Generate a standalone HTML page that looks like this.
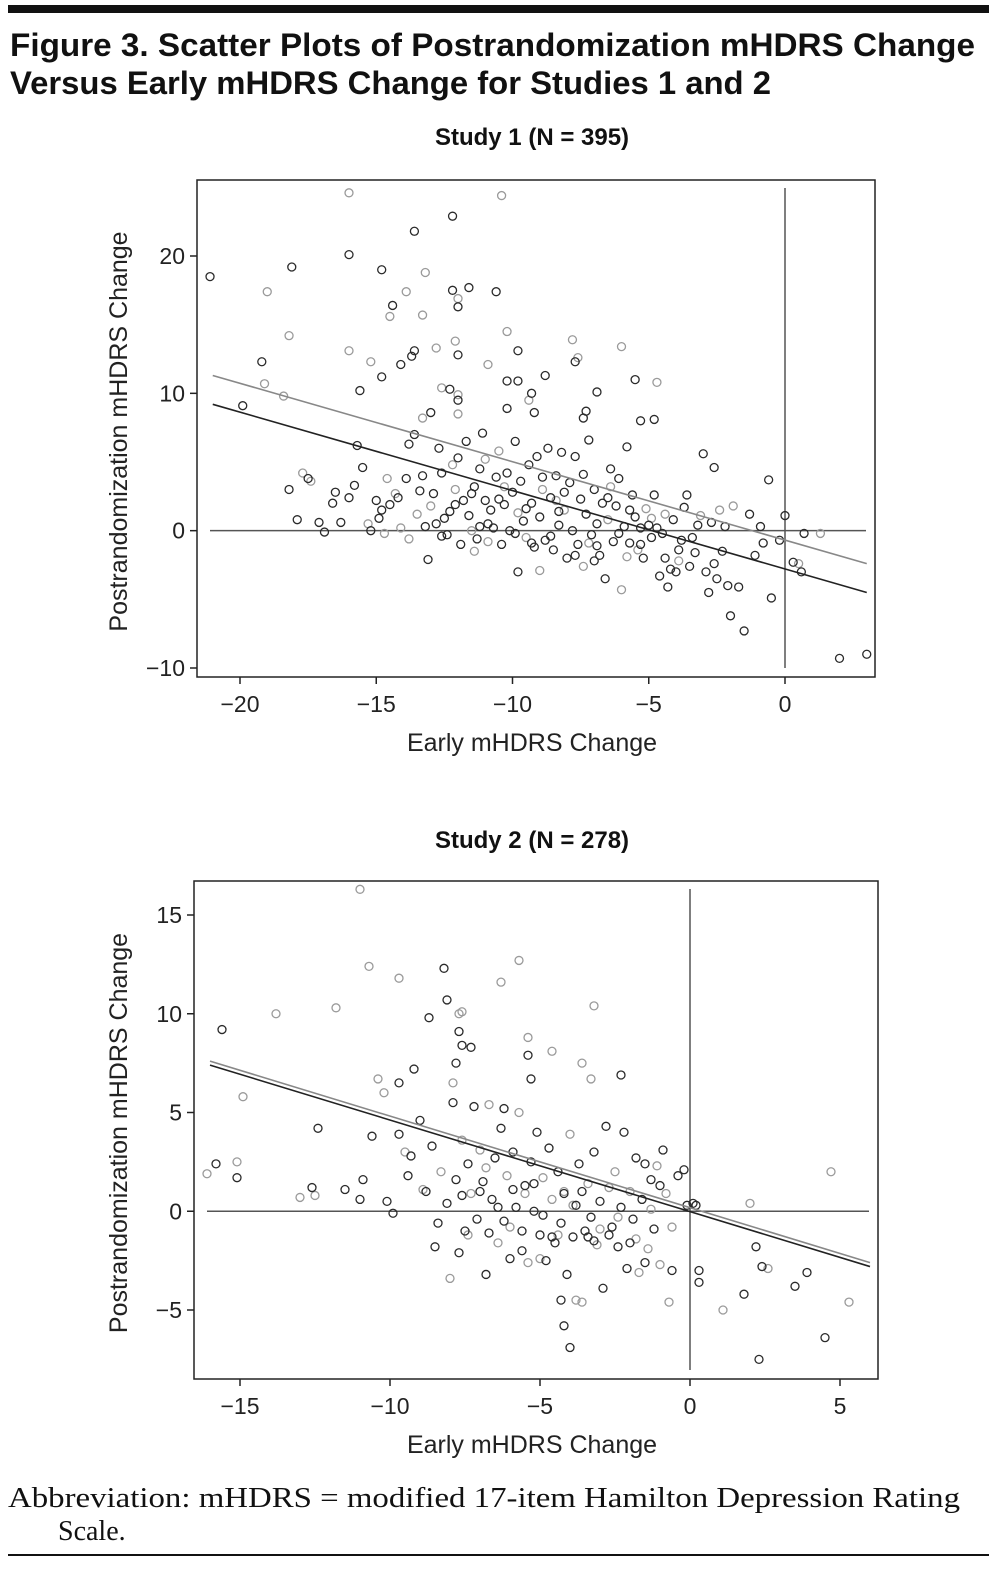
<!DOCTYPE html>
<html><head><meta charset="utf-8"><style>
html,body{margin:0;padding:0;background:#fff;}
svg{display:block;}
.t{font-family:"Liberation Sans",sans-serif;}
</style></head><body>
<svg id="fig" width="997" height="1571" viewBox="0 0 997 1571" xmlns="http://www.w3.org/2000/svg">
<rect x="8" y="5" width="981" height="8" fill="#111"/>
<text class="t" x="10" y="56" font-size="32" font-weight="bold" fill="#111" textLength="965" lengthAdjust="spacingAndGlyphs">Figure 3. Scatter Plots of Postrandomization mHDRS Change</text>
<text class="t" x="10" y="94" font-size="32" font-weight="bold" fill="#111" textLength="761" lengthAdjust="spacingAndGlyphs">Versus Early mHDRS Change for Studies 1 and 2</text>
<text x="8" y="1507" font-family="Liberation Serif,serif" font-size="28" fill="#111" textLength="952" lengthAdjust="spacingAndGlyphs">Abbreviation: mHDRS = modified 17-item Hamilton Depression Rating</text>
<text x="58" y="1540" font-family="Liberation Serif,serif" font-size="28" fill="#111">Scale.</text>
<rect x="8" y="1554" width="981" height="2" fill="#111"/>
<g id="p1"></g>
<g id="p2"></g>
</svg>
<script>
// ---- Study 1 data ----
const s1XTicks=[-20,-15,-10,-5,0];
const s1YTicks=[20,10,0,-10];
const s1YTickLabels=["20","10","0","\u221210"];
const s1XTickLabels=["\u221220","\u221215","\u221210","\u22125","0"];
const s1GrayLine=[[-21,11.3],[3,-2.4]];
const s1BlackLine=[[-21,9.2],[3,-4.5]];
const s1Gray=[[-16.0,24.6],[-10.4,24.4],[-19.0,17.4],[-13.2,18.8],[-13.9,17.4],[-12.0,16.9],[-14.5,15.6],[-13.3,15.7],[-18.2,14.2],[-10.2,14.5],[-12.8,13.3],[-12.1,13.8],[-7.8,13.9],[-6.0,13.4],[-16.0,13.1],[-7.6,12.6],[-15.2,12.3],[-10.9,12.1],[-4.7,10.8],[-19.1,10.7],[-12.6,10.4],[-12.0,9.9],[-18.4,9.8],[-9.4,9.5],[-12.0,8.5],[-13.3,8.2],
[-17.4,3.6],[-17.7,4.2],[-15.3,0.5],[-14.7,-0.2],[-14.3,2.7],[-14.1,0.2],[-13.0,1.8],[-12.1,3.0],[-11.5,0.0],[-10.9,-0.8],[-10.5,5.8],[-9.5,-0.5],[-8.9,3.0],[-8.1,1.5],[-7.4,-2.6],[-6.5,0.8],[-6.0,-4.3],[-5.4,-1.4],[-5.1,1.6],[-4.4,1.2],[-3.1,1.1],[-2.4,1.5],[-1.9,1.8],[0.5,-2.4],[1.3,-0.2],
[-14.6,3.8],[-13.5,1.2],[-12.2,4.8],[-11.4,-1.5],[-10.3,3.2],[-9.8,1.3],[-9.0,-2.9],[-8.4,2.2],[-7.2,-0.9],[-6.4,3.2],[-5.8,-1.9],[-4.9,0.9],[-3.9,-2.2],[-13.8,-0.6],[-11.0,5.2]];
const s1Black=[[-12.2,22.9],[-13.6,21.8],[-16.0,20.1],[-21.1,18.5],[-18.1,19.2],[-14.8,19.0],[-10.6,17.4],[-11.6,17.7],[-12.2,17.5],[-12.0,16.3],[-14.4,16.4],[-9.8,13.1],[-13.6,13.1],[-12.0,12.8],[-19.2,12.3],[-14.1,12.1],[-13.7,12.7],[-7.7,12.3],[-14.8,11.2],[-8.8,11.3],[-5.5,11.0],[-10.2,10.9],[-9.8,10.9],[-12.3,10.3],[-15.6,10.2],[-6.9,10.1],[-9.3,10.0],[-19.9,9.1],[-10.2,8.9],[-12.0,9.5],[-7.4,8.2],[-5.3,8.0],[-4.8,8.1],[-7.3,8.7],[-9.2,8.6],[-13.0,8.6],
[-18.2,3.0],[-17.9,0.8],[-17.5,3.8],[-17.1,0.6],[-16.9,-0.1],[-16.6,2.0],[-16.5,2.8],[-16.3,0.6],[-16.0,2.4],[-15.8,3.3],[-15.7,6.2],[-15.5,4.6],[-15.2,0.0],[-15.0,2.2],[-14.8,1.5],[-14.5,1.9],[-13.9,3.8],[-13.8,6.3],[-13.6,7.0],[-13.3,4.0],[-13.2,0.3],[-13.1,-2.1],[-12.9,2.7],[-12.7,6.0],[-12.6,4.2],[-12.5,0.9],[-12.4,-0.3],[-12.3,1.4],[-12.0,5.3],[-11.9,-1.0],[-11.8,2.2],[-11.7,6.5],[-11.6,1.1],[-11.4,3.2],[-11.3,-0.6],[-11.2,4.5],[-11.1,7.1],[-11.0,2.2],[-10.8,1.5],[-10.7,0.2],[-10.6,3.9],[-10.4,-1.0],[-10.3,1.9],[-10.2,4.2],[-10.1,0.0],[-10.0,2.8],[-9.9,6.5],[-9.8,-3.0],[-9.7,3.6],[-9.6,0.7],[-9.4,4.8],[-9.3,2.0],[-9.2,-1.2],[-9.1,5.4],[-9.0,1.0],[-8.8,-0.7],[-8.7,6.0],[-8.6,2.4],[-8.5,-1.4],[-8.4,4.0],[-8.3,0.4],[-8.2,5.7],[-8.0,-2.0],[-7.9,3.5],[-7.8,0.0],[-7.7,5.4],[-7.6,-1.0],[-7.5,2.3],[-7.3,1.2],[-7.2,6.6],[-7.1,-0.3],[-7.0,3.0],[-6.9,0.5],[-6.8,-1.8],[-6.7,2.0],[-6.6,-3.5],[-6.4,4.5],[-6.3,-0.8],[-6.2,1.8],[-6.1,3.8],[-5.9,0.3],[-5.8,6.1],[-5.7,-0.9],[-5.6,2.6],[-5.5,1.0],[-5.3,0.2],[-5.2,-2.0],[-5.0,0.4],[-4.9,-0.5],[-4.8,2.6],[-4.6,-3.3],[-4.5,-0.2],[-4.3,-4.1],[-4.2,-2.8],[-4.1,0.8],[-4.0,-3.0],[-3.9,-1.4],[-3.7,1.7],[-3.6,2.6],[-3.5,-2.6],[-3.4,-0.5],[-3.3,-1.6],[-3.0,5.6],[-2.9,-3.0],[-2.8,-4.5],[-2.7,0.6],[-2.6,4.6],[-2.5,-3.5],[-2.3,-1.5],[-2.2,0.3],[-2.1,-4.0],[-2.0,-6.2],[-1.7,-4.1],[-1.5,-7.3],[-1.3,1.2],[-1.1,-1.8],[-0.9,0.3],[-0.8,-0.9],[-0.6,3.7],[-0.5,-4.9],[-0.2,-0.7],[0.0,1.1],[0.3,-2.3],[0.6,-3.0],[0.7,-0.2],[2.0,-9.3],[3.0,-9.0],
[-14.9,0.9],[-14.2,2.4],[-13.4,2.9],[-12.8,0.5],[-12.1,1.9],[-11.5,2.7],[-10.9,0.5],[-10.5,2.3],[-9.9,-0.2],[-9.5,1.6],[-8.9,3.9],[-8.6,-0.4],[-8.1,2.8],[-7.7,-1.8],[-7.4,4.1],[-6.9,-1.1],[-6.5,2.4],[-6.1,-0.2],[-5.7,1.5],[-5.3,-1.0],[-4.7,0.2],[-4.4,-2.0],[-3.8,-0.7],[-3.2,0.4],[-2.6,-2.4],[-12.6,-0.4],[-11.2,0.3],[-9.3,-0.9],[-8.3,1.4],[-7.0,-2.2]];

// ---- Study 2 data ----
const s2XTicks=[-15,-10,-5,0,5];
const s2XTickLabels=["\u221215","\u221210","\u22125","0","5"];
const s2YTicks=[15,10,5,0,-5];
const s2YTickLabels=["15","10","5","0","\u22125"];
const s2GrayLine=[[-16,7.6],[6,-2.6]];
const s2BlackLine=[[-16,7.4],[6,-2.8]];
const s2Gray=[[-11.0,16.3],[-10.7,12.4],[-9.7,11.8],[-5.7,12.7],[-6.3,11.6],[-3.2,10.4],[-13.8,10.0],[-11.8,10.3],[-7.7,10.0],[-7.6,10.1],[-5.4,8.8],[-4.6,8.1],[-3.6,7.5],[-3.3,6.7],[-10.4,6.7],[-14.9,5.8],[-16.1,1.9],[-15.1,2.5],[-13.0,0.7],[-12.5,0.8],[4.7,2.0],[5.3,-4.6],[2.0,0.4],[1.1,-5.0],[2.6,-2.9],[-0.7,-4.6],[-3.8,-4.5],
[-8.3,2.0],[-8.0,-3.4],[-7.6,3.6],[-7.3,0.9],[-7.0,3.1],[-6.7,5.4],[-6.4,-1.6],[-6.1,1.8],[-5.7,5.0],[-5.4,-2.6],[-4.9,1.7],[-4.6,0.6],[-4.2,1.0],[-4.0,3.9],[-3.6,-4.6],[-3.4,1.4],[-3.1,-1.7],[-2.7,1.2],[-2.5,2.0],[-2.0,1.0],[-1.7,-3.1],[-1.4,-1.9],[-1.1,2.3],[-1.0,-2.7],[-0.8,0.9],[-0.6,-0.8],
[-10.2,6.0],[-9.5,3.0],[-8.9,1.1],[-7.9,6.5],[-7.4,-1.2],[-6.8,2.2],[-6.0,-0.8],[-5.5,0.9],[-5.0,-2.4],[-4.4,-1.2],[-3.9,0.3],[-3.0,-0.9],[-2.4,-0.3],[-1.8,-1.4],[-1.3,0.1]];
const s2Black=[[-8.2,12.3],[-8.7,9.8],[-8.1,10.7],[-15.6,9.2],[-7.7,9.1],[-7.6,8.4],[-7.3,8.3],[-5.4,7.9],[-2.3,6.9],[-5.3,6.7],[-7.8,7.5],[-9.7,6.5],[-9.2,7.2],[-15.8,2.4],[-15.1,1.7],[-12.4,4.2],[-12.6,1.2],[-11.5,1.1],[-10.9,1.6],[-11.0,0.6],[-10.6,3.8],[-10.1,0.5],[-9.9,-0.1],[4.5,-6.4],[3.9,-3.1],[3.5,-3.8],[2.2,-1.8],[1.8,-4.2],[2.3,-7.5],[2.4,-2.8],[0.3,-3.6],[0.3,-3.0],[-0.6,-3.0],[-0.2,2.1],[0.1,0.4],[-0.9,3.1],[-4.0,-6.9],[-4.2,-5.8],[-4.3,-4.5],
[-9.7,3.9],[-9.3,2.8],[-9.0,4.6],[-8.8,1.0],[-8.6,3.3],[-8.5,-1.8],[-8.1,0.4],[-7.9,5.5],[-7.8,1.6],[-7.7,-2.1],[-7.5,-1.0],[-7.4,2.4],[-7.2,5.3],[-7.1,-0.4],[-6.9,1.5],[-6.8,-3.2],[-6.6,0.6],[-6.5,2.7],[-6.3,4.2],[-6.2,-0.5],[-6.0,-2.4],[-5.9,3.0],[-5.8,0.2],[-5.6,-2.0],[-5.5,1.3],[-5.3,2.5],[-5.2,0.0],[-5.1,4.0],[-5.0,-1.2],[-4.8,-2.5],[-4.7,3.2],[-4.5,-1.6],[-4.4,2.0],[-4.3,-0.6],[-4.1,-3.2],[-3.9,-1.3],[-3.8,0.3],[-3.7,2.4],[-3.5,-1.0],[-3.3,-0.3],[-3.2,3.0],[-3.0,0.5],[-2.9,-3.9],[-2.8,4.3],[-2.6,-0.8],[-2.4,-1.8],[-2.3,0.2],[-2.2,4.0],[-2.1,-2.9],[-1.9,-0.4],[-1.8,2.7],[-1.6,0.6],[-1.5,2.4],[-1.3,1.6],[-1.2,-0.9],[-0.4,1.8],[-0.1,0.3],[0.2,0.3],
[-9.4,1.8],[-8.4,-0.6],[-7.6,0.8],[-7.0,1.0],[-6.7,-1.1],[-6.4,0.2],[-5.9,1.1],[-5.6,-1.0],[-5.2,1.4],[-4.6,-1.3],[-4.2,0.9],[-3.6,1.0],[-3.2,-1.5],[-2.7,-1.2],[-2.0,-1.6],[-1.5,-2.6],[-6.2,5.2],[-4.9,-0.2],[-3.4,-1.3],[-1.0,1.3]];

const NS="http://www.w3.org/2000/svg";
function mk(parent,tag,attrs,text){const e=document.createElementNS(NS,tag);for(const k in attrs)e.setAttribute(k,attrs[k]);if(text!==undefined)e.textContent=text;parent.appendChild(e);return e;}

function drawChart(g,cfg){
  const sx=v=>cfg.px0+(v-cfg.x0)*(cfg.px1-cfg.px0)/(cfg.x1-cfg.x0);
  const sy=v=>cfg.py0+(v-cfg.y0)*(cfg.py1-cfg.py0)/(cfg.y1-cfg.y0);
  const t=mk(g,'text',{x:cfg.titleX,y:cfg.titleY,'text-anchor':'middle','font-size':24,'font-weight':'bold',class:'t',fill:'#111'},cfg.title);
  
  
  const fr=mk(g,'rect',{x:cfg.fx0,y:cfg.fy0,width:cfg.fx1-cfg.fx0,height:cfg.fy1-cfg.fy0,fill:'none',stroke:'#222','stroke-width':1.5});
  
  
  cfg.xTicks.forEach((v,i)=>{
    const x=sx(v);
    const tk=mk(g,'line',{x1:x,x2:x,y1:cfg.fy1,y2:cfg.fy1+7,stroke:'#222','stroke-width':1.5});
    
    
    const l=mk(g,'text',{x:x,y:cfg.fy1+35,'text-anchor':'middle','font-size':23,class:'t',fill:'#222'},cfg.xLabels[i]);
    
    
  });
  cfg.yTicks.forEach((v,i)=>{
    const y=sy(v);
    const tk=mk(g,'line',{x1:cfg.fx0-7,x2:cfg.fx0,y1:y,y2:y,stroke:'#222','stroke-width':1.5});
    
    
    const l=mk(g,'text',{x:cfg.fx0-12,y:y+8,'text-anchor':'end','font-size':23,class:'t',fill:'#222'},cfg.yLabels[i]);
    
    
  });
  const xt=mk(g,'text',{x:cfg.titleX,y:cfg.fy1+74,'text-anchor':'middle','font-size':25,class:'t',fill:'#222'},'Early mHDRS Change');
  
  
  const yc=(cfg.fy0+cfg.fy1)/2+3;
  const yt=mk(g,'text',{x:127,y:yc,'text-anchor':'middle','font-size':25,class:'t',fill:'#222',transform:`rotate(-90 127 ${yc})`},'Postrandomization mHDRS Change');
  
  
  const h=mk(g,'line',{x1:cfg.fx0+13,x2:cfg.fx1-9,y1:sy(0),y2:sy(0),stroke:'#555','stroke-width':1.5});
  
  
  const vl=mk(g,'line',{x1:sx(0),x2:sx(0),y1:cfg.fy0+8,y2:cfg.fy1-9,stroke:'#555','stroke-width':1.5});
  
  
  cfg.gray.forEach(p=>{
    const c=mk(g,'circle',{cx:sx(p[0]),cy:sy(p[1]),r:4,fill:'none',stroke:'#9a9a9a','stroke-width':1.3});
    
    
  });
  cfg.black.forEach(p=>{
    const c=mk(g,'circle',{cx:sx(p[0]),cy:sy(p[1]),r:4,fill:'none',stroke:'#2a2a2a','stroke-width':1.3});
    
    
  });
  const gl=mk(g,'line',{x1:sx(cfg.grayLine[0][0]),y1:sy(cfg.grayLine[0][1]),x2:sx(cfg.grayLine[1][0]),y2:sy(cfg.grayLine[1][1]),stroke:'#888','stroke-width':1.6});
  
  
  const bl=mk(g,'line',{x1:sx(cfg.blackLine[0][0]),y1:sy(cfg.blackLine[0][1]),x2:sx(cfg.blackLine[1][0]),y2:sy(cfg.blackLine[1][1]),stroke:'#222','stroke-width':1.6});
  
  
}

drawChart(document.getElementById('p1'),{
  title:'Study 1 (N = 395)',titleX:532,titleY:145,
  fx0:197,fx1:875,fy0:180,fy1:677,
  x0:-20,x1:0,px0:240,px1:785,y0:20,y1:-10,py0:256,py1:668,
  xTicks:s1XTicks,xLabels:s1XTickLabels,yTicks:s1YTicks,yLabels:s1YTickLabels,
  gray:s1Gray,black:s1Black,grayLine:s1GrayLine,blackLine:s1BlackLine});
drawChart(document.getElementById('p2'),{
  title:'Study 2 (N = 278)',titleX:532,titleY:848,
  fx0:194,fx1:878,fy0:881,fy1:1379,
  x0:-15,x1:5,px0:240,px1:840,y0:15,y1:-5,py0:915,py1:1310,
  xTicks:s2XTicks,xLabels:s2XTickLabels,yTicks:s2YTicks,yLabels:s2YTickLabels,
  gray:s2Gray,black:s2Black,grayLine:s2GrayLine,blackLine:s2BlackLine});
</script>
</body></html>
